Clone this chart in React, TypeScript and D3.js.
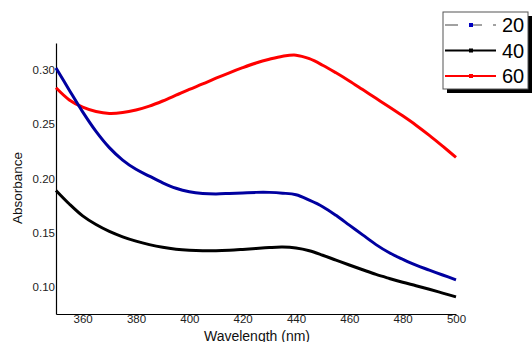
import React, { useEffect, useRef } from "react";
import * as d3 from "d3";

// wavelength (nm), 5 nm steps
const wavelengths = d3.range(350, 501, 5);
// absorbance per sample
const s20 = [0.302, 0.2815, 0.2615, 0.2435, 0.2285, 0.217, 0.2085, 0.2022, 0.196, 0.191, 0.1878,
  0.1862, 0.1858, 0.1862, 0.1867, 0.1872, 0.1872, 0.1865, 0.185, 0.18, 0.174, 0.166, 0.157,
  0.148, 0.139, 0.1315, 0.1255, 0.12, 0.1155, 0.111, 0.1065];
const s40 = [0.189, 0.1765, 0.1655, 0.1575, 0.1512, 0.1462, 0.1422, 0.139, 0.1365, 0.1348, 0.1338,
  0.1333, 0.1333, 0.1338, 0.1346, 0.1355, 0.1363, 0.1367, 0.1358, 0.1333, 0.1292, 0.1247, 0.1202,
  0.1158, 0.1115, 0.1078, 0.1043, 0.1011, 0.0978, 0.0943, 0.0908];
const s60 = [0.2837, 0.2725, 0.2658, 0.2618, 0.26, 0.2608, 0.2632, 0.2668, 0.2715, 0.2768, 0.2822,
  0.2872, 0.2925, 0.2975, 0.3022, 0.3065, 0.31, 0.3128, 0.3138, 0.3105, 0.3045, 0.2975, 0.29,
  0.282, 0.274, 0.266, 0.2578, 0.2492, 0.2398, 0.2298, 0.2195];
const xTicks = [360, 380, 400, 420, 440, 460, 480, 500];
const yTicks = [0.1, 0.15, 0.2, 0.25, 0.3];
const seriesNames = ["20", "40", "60"];

export default function App() {
  const svgRef = useRef<SVGSVGElement | null>(null);

  useEffect(() => {
    if (!svgRef.current) return;
    const W = 532, H = 342;
    const margin = { top: 43, right: 76, bottom: 28, left: 56 };
    const svg = d3.select(svgRef.current);
    svg.selectAll("*").remove();

    const x = d3.scaleLinear().domain([350, 500]).range([margin.left, W - margin.right]);
    const y = d3.scaleLinear().domain([0.075, 0.325]).range([H - margin.bottom, margin.top]);

    const font = "'Liberation Sans', Arial, sans-serif";

    // axes
    svg.append("g")
      .attr("transform", `translate(0,${H - margin.bottom})`)
      .call(d3.axisBottom(x).tickValues(xTicks).tickSize(0).tickPadding(1).tickFormat(d3.format("d")))
      .call(g => {
        g.select(".domain").attr("stroke", "#000").attr("stroke-width", 1.2);
        g.selectAll(".tick text").attr("fill", "#222").style("font-size", "11.5px").style("font-family", font);
      });

    svg.append("g")
      .attr("transform", `translate(${margin.left},0)`)
      .call(d3.axisLeft(y).tickValues(yTicks).tickSize(0).tickPadding(1).tickFormat(d3.format(".2f")))
      .call(g => {
        g.select(".domain").attr("stroke", "#000").attr("stroke-width", 1.2);
        g.selectAll(".tick text").attr("fill", "#222").style("font-size", "11.5px").style("font-family", font);
      });

    svg.append("text")
      .attr("x", 257).attr("y", 341)
      .attr("text-anchor", "middle")
      .style("font-family", font).style("font-size", "14px").attr("fill", "#111")
      .text("Wavelength (nm)");

    svg.append("text")
      .attr("transform", `translate(22,188) rotate(-90)`)
      .attr("text-anchor", "middle")
      .style("font-family", font).style("font-size", "13.5px").attr("fill", "#111")
      .text("Absorbance");

    const colors = ["#0000a0", "#000000", "#ff0000"];
    const all = [s20, s40, s60];
    const line = d3.line<number>()
      .x((_, i) => x(wavelengths[i]))
      .y(d => y(d))
      .curve(d3.curveCatmullRom.alpha(0.5));

    [2, 1, 0].forEach(k => {
      svg.append("path")
        .datum(all[k])
        .attr("fill", "none")
        .attr("stroke", colors[k])
        .attr("stroke-width", 3)
        .attr("stroke-linejoin", "round")
        .attr("d", line);
    });

    // legend
    const lx = 443, ly = 12, lw = 85, lh = 77;
    const legend = svg.append("g");
    legend.append("rect").attr("x", lx + 4).attr("y", ly + 4).attr("width", lw).attr("height", lh).attr("fill", "#000");
    legend.append("rect").attr("x", lx).attr("y", ly).attr("width", lw).attr("height", lh)
      .attr("fill", "#fff").attr("stroke", "#555").attr("stroke-width", 1);

    const legendLine = ["#444", "#000", "#ff0000"];
    const markerColor = ["#0000c0", "#000", "#ff0000"];
    seriesNames.forEach((name, i) => {
      const cy = ly + 13 + i * 25.5;
      const g = legend.append("g");
      g.append("line")
        .attr("x1", lx + 2).attr("x2", lx + 53).attr("y1", cy).attr("y2", cy)
        .attr("stroke", legendLine[i]).attr("stroke-width", i === 0 ? 1 : 1.8)
        .attr("stroke-dasharray", i === 0 ? "13,11" : null);
      g.append("rect")
        .attr("x", lx + 26).attr("y", cy - 2).attr("width", 4).attr("height", 4)
        .attr("fill", markerColor[i]);
      g.append("text")
        .attr("x", lx + 59).attr("y", cy + 7)
        .style("font-family", font).style("font-size", "20px").attr("fill", "#000")
        .text(name);
    });
  }, []);

  return (
    <svg ref={svgRef} width={532} height={342}
      style={{ position: "absolute", left: 0, top: 0, background: "#fff" }} />
  );
}
